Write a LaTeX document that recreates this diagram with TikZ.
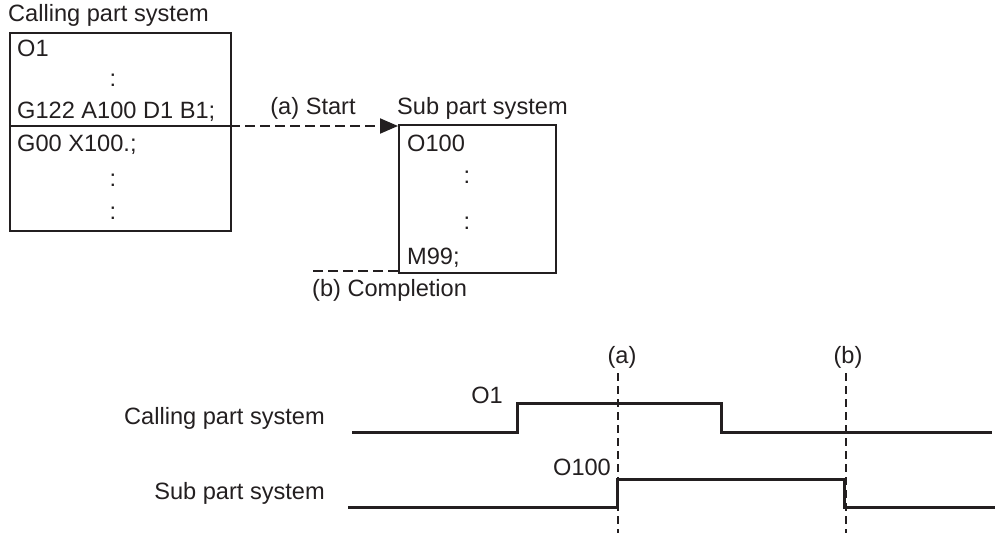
\documentclass[tikz,border=0pt]{standalone}
\usepackage{fontspec}
\setmainfont{Liberation Sans}
\usetikzlibrary{arrows.meta}
\definecolor{ink}{RGB}{35,31,32}
\begin{document}
\begin{tikzpicture}[x=1pt,y=-1pt,
  txt/.style={font=\fontsize{23.6}{28}\selectfont, inner sep=0pt, text=ink},
  boxst/.style={draw=ink, line width=1.8pt, inner sep=0pt},
  dashln/.style={draw=ink, dash pattern=on 10pt off 5pt, line width=2pt},
  vdash/.style={draw=ink, dash pattern=on 8pt off 5pt, line width=2.2pt},
  sig/.style={draw=ink, line width=3pt, line join=miter}]
\useasboundingbox (0,0) rectangle (999,533);
% calling box
\node[boxst, minimum width=221pt, minimum height=198pt, anchor=north west] (cbox) at (9,32) {};
\node[txt, anchor=west] (ctitle) at (8,15) {Calling part system};
\node[txt, anchor=west] (o1) at (17,48) {O1};
\node[txt] (c1) at (113,80) {:};
\node[txt, anchor=west] (g122) at (17,112) {G122 A100 D1 B1;};
\node[txt, anchor=west] (g00) at (17,145) {G00 X100.;};
\node[txt] (c2) at (113,180) {:};
\node[txt] (c3) at (113,213) {:};
\coordinate (divL) at (9,126);
\coordinate (divR) at (230,126);
\draw[boxst] (divL) -- (divR);
% sub box
\node[boxst, minimum width=157pt, minimum height=148pt, anchor=north west] (sbox) at (398,124) {};
\node[txt, anchor=west] (stitle) at (397,108) {Sub part system};
\node[txt] (astart) at (313,108) {(a) Start};
\node[txt, anchor=west] (o100) at (407,143) {O100};
\node[txt] (c4) at (467,177) {:};
\node[txt] (c5) at (467,223) {:};
\node[txt, anchor=west] (m99) at (407,258) {M99;};
\draw[dashln, -{Triangle[length=18pt,width=15pt]}] (divR) -- (divR -| sbox.west);
\coordinate (bend) at (313,271);
\draw[dashln] (sbox.south west |- bend) -- (bend);
\node[txt, anchor=west] (bcomp) at (312,290) {(b) Completion};
% timing
\node[txt, anchor=east] (lcall) at (325,418) {Calling part system};
\node[txt, anchor=east] (lsub) at (325,493) {Sub part system};
\draw[sig] (352,432) -- (517,432) -- (517,403) -- (721,403) -- (721,432) -- (992,432);
\draw[sig] (348,507) -- (617,507) -- (617,479) -- (844,479) -- (844,507) -- (995,507);
\node[txt] (lo1) at (487,395) {O1};
\node[txt] (lo100) at (582,467) {O100};
\node[txt] (la) at (622,357) {(a)};
\node[txt] (lb) at (848,357) {(b)};
\coordinate (ab) at (618,533);
\coordinate (bb) at (846,533);
\draw[vdash] (618,373) -- (ab);
\draw[vdash] (846,373) -- (bb);
\end{tikzpicture}
\end{document}
